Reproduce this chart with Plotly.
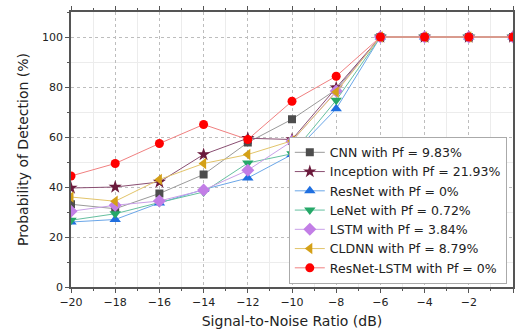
import plotly.graph_objects as go

snr = [-20, -18, -16, -14, -12, -10, -8, -6, -4, -2, 0]

cnn = [33.1, 31.3, 37.4, 45.0, 57.8, 67.1, 79.0, 100, 100, 100, 100]
inception = [39.6, 40.0, 42.0, 53.0, 59.5, 59.0, 79.7, 100, 100, 100, 100]
resnet = [26.0, 27.0, 33.6, 39.0, 43.6, 53.0, 71.3, 100, 100, 100, 100]
lenet = [26.7, 29.3, 33.8, 38.0, 49.6, 53.3, 74.7, 100, 100, 100, 100]
lstm = [30.3, 32.7, 34.4, 38.8, 46.7, 58.3, 78.4, 100, 100, 100, 100]
cldnn = [36.0, 34.3, 43.0, 49.4, 53.0, 58.5, 78.0, 100, 100, 100, 100]
resnet_lstm = [44.4, 49.4, 57.4, 65.0, 59.0, 74.3, 84.3, 100, 100, 100, 100]

names = ["CNN with Pf = 9.83%", "Inception with Pf = 21.93%", "ResNet with Pf = 0%",
         "LeNet with Pf = 0.72%", "LSTM with Pf = 3.84%", "CLDNN with Pf = 8.79%",
         "ResNet-LSTM with Pf = 0%"]
series = [cnn, inception, resnet, lenet, lstm, cldnn, resnet_lstm]
mcolors = ["#4d4d4d", "#6b1a3c", "#1f6fe0", "#25a868", "#c27ee6", "#d4a017", "#ff0000"]
lcolors = ["#9a9a9a", "#8a4f72", "#6aa6e8", "#66c0a0", "#c9a0e8", "#e2c46a", "#f08080"]
symbols = ["square", "star", "triangle-up", "triangle-down", "diamond", "triangle-left", "circle"]
sizes = [8, 10, 10, 10, 10, 10, 9]

FONT = "DejaVu Sans, Liberation Sans, Arial"

fig = go.Figure()
for n, y, mc, lc, s, sz in zip(names, series, mcolors, lcolors, symbols, sizes):
    fig.add_trace(go.Scatter(
        x=snr, y=y, name=n, mode="lines+markers",
        line=dict(color=lc, width=1),
        marker=dict(symbol=s, size=sz, color=mc, line=dict(width=0)),
    ))

axis_common = dict(
    showline=True, linecolor="#555555", linewidth=1.5, mirror="ticks",
    ticks="outside", ticklen=4, tickcolor="#555555", tickwidth=1,
    showgrid=True, gridcolor="#bdbdbd", griddash="dot", gridwidth=1,
    zeroline=False, automargin=False,
    tickfont=dict(family=FONT, size=11, color="#222222"),
    title_font=dict(family=FONT, size=14, color="#222222"),
)

fig.update_xaxes(range=[-20, 0], dtick=2, tick0=-20,
                 minor=dict(dtick=1, ticks="outside", ticklen=2, tickcolor="#555555",
                            showgrid=True, gridcolor="#ececec", griddash="solid"),
                 title_text="Signal-to-Noise Ratio (dB)", title_standoff=8, **axis_common)
fig.update_yaxes(range=[0, 110], dtick=20, tick0=0,
                 minor=dict(dtick=10, ticks="outside", ticklen=2, tickcolor="#555555",
                            showgrid=True, gridcolor="#ececec", griddash="solid"),
                 title_text="Probability of Detection (%)", title_standoff=10, **axis_common)

fig.update_layout(
    width=515, height=334,
    margin=dict(l=71, r=2, t=12, b=47),
    plot_bgcolor="white", paper_bgcolor="white",
    legend=dict(x=0.986, y=0.012, xanchor="right", yanchor="bottom",
                bgcolor="white", bordercolor="#aaaaaa", borderwidth=1,
                font=dict(family=FONT, size=12.5, color="#222222"),
                tracegroupgap=0, itemwidth=30),
    showlegend=True,
)

fig.write_html("out.html")
